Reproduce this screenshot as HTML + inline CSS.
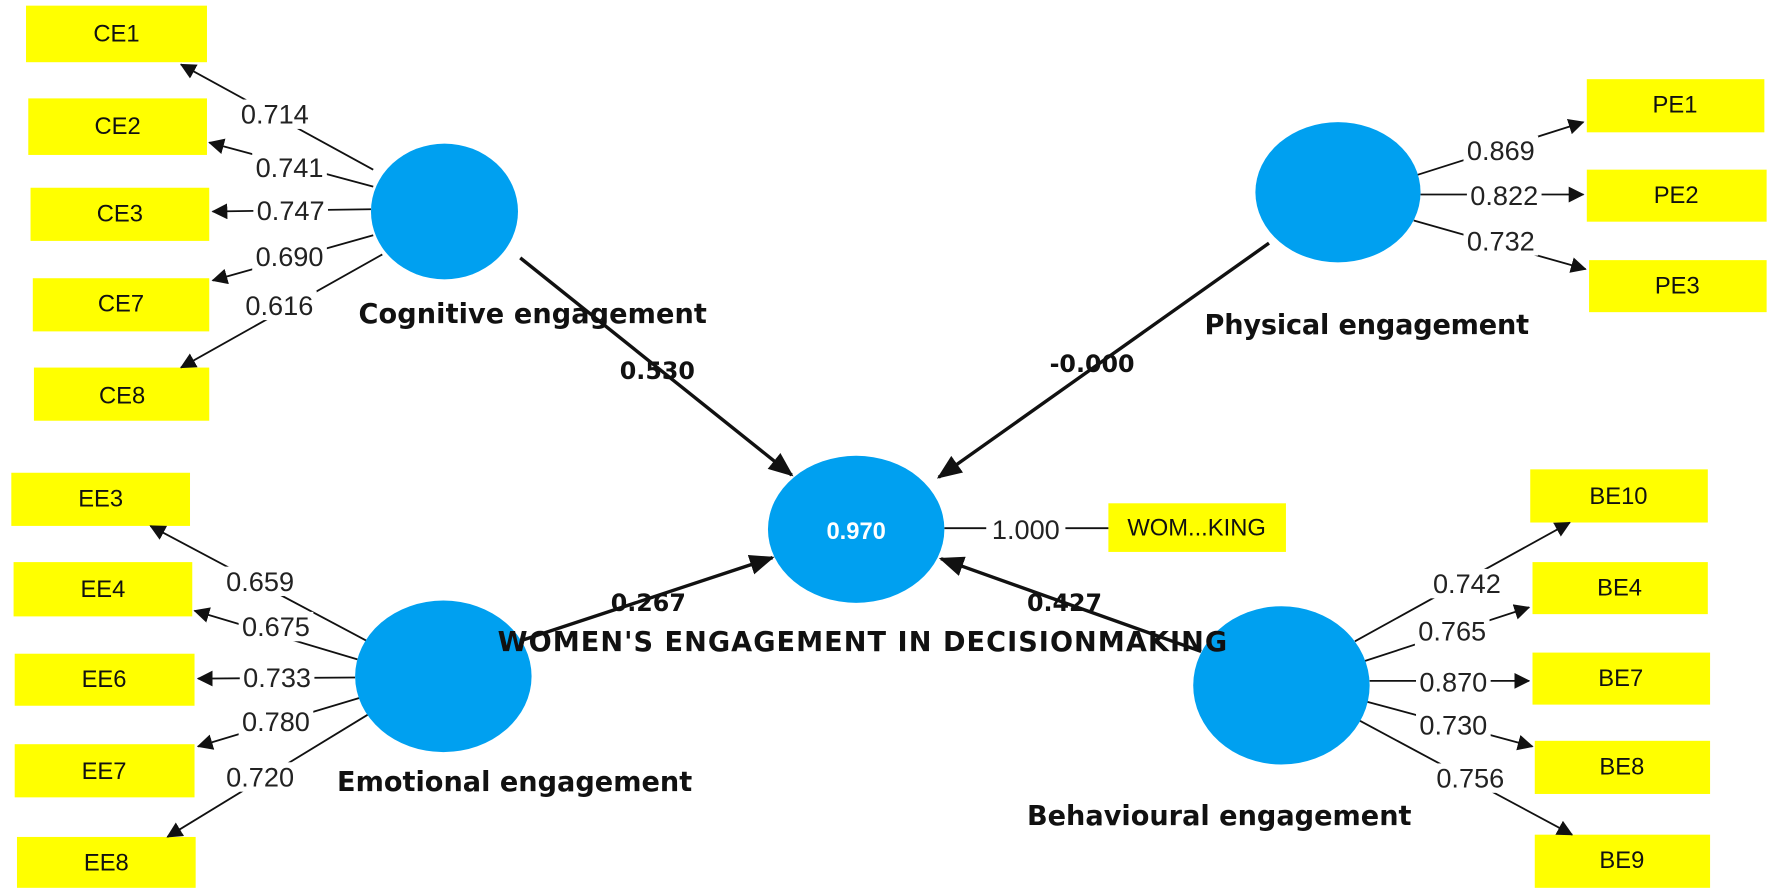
<!DOCTYPE html>
<html><head><meta charset="utf-8"><style>
html,body{margin:0;padding:0;background:#fff}
svg{display:block}
.b{fill:#ffff00}
.bt{font-family:"Liberation Sans",sans-serif;font-size:21px;fill:#111;text-anchor:middle;dominant-baseline:central}
.l{font-family:"Liberation Sans",sans-serif;font-size:24px;fill:#222;text-anchor:middle;dominant-baseline:central}
.p{font-family:"DejaVu Sans",sans-serif;font-weight:bold;font-size:21px;fill:#111;dominant-baseline:central}
.n{font-family:"DejaVu Sans",sans-serif;font-weight:bold;font-size:24px;fill:#111;dominant-baseline:central}
.c{fill:#00a0f0}
line{stroke:#111;stroke-width:1.6}
.s{stroke-width:3}
</style></head><body>
<svg width="1770" height="895" viewBox="0 0 1770 895" xmlns="http://www.w3.org/2000/svg">
<defs>
<marker id="a" markerWidth="14" markerHeight="14" refX="13" refY="7" orient="auto" markerUnits="userSpaceOnUse" viewBox="0 0 14 14"><path d="M0,0 L14,7 L0,14z" fill="#111"/></marker>
<marker id="A" markerWidth="22" markerHeight="22" refX="20" refY="11" orient="auto" markerUnits="userSpaceOnUse" viewBox="0 0 22 22"><path d="M0,2 L22,11 L0,20z" fill="#111"/></marker>
</defs>
<g transform="scale(1.131)">
<!-- boxes -->
<rect class="b" x="23" y="5" width="160" height="50"/><text class="bt" x="103" y="30">CE1</text>
<rect class="b" x="25" y="87" width="158" height="50"/><text class="bt" x="104" y="112">CE2</text>
<rect class="b" x="27" y="166" width="158" height="47"/><text class="bt" x="106" y="189">CE3</text>
<rect class="b" x="29" y="246" width="156" height="47"/><text class="bt" x="107" y="269">CE7</text>
<rect class="b" x="30" y="325" width="155" height="47"/><text class="bt" x="108" y="350">CE8</text>

<rect class="b" x="1403" y="70" width="157" height="47"/><text class="bt" x="1481" y="93">PE1</text>
<rect class="b" x="1403" y="150" width="159" height="46"/><text class="bt" x="1482" y="173">PE2</text>
<rect class="b" x="1405" y="230" width="157" height="46"/><text class="bt" x="1483" y="253">PE3</text>

<rect class="b" x="10" y="418" width="158" height="47"/><text class="bt" x="89" y="441">EE3</text>
<rect class="b" x="12" y="497" width="158" height="48"/><text class="bt" x="91" y="521">EE4</text>
<rect class="b" x="13" y="578" width="159" height="46"/><text class="bt" x="92" y="601">EE6</text>
<rect class="b" x="13" y="658" width="159" height="47"/><text class="bt" x="92" y="682">EE7</text>
<rect class="b" x="15" y="740" width="158" height="45"/><text class="bt" x="94" y="763">EE8</text>

<rect class="b" x="1353" y="415" width="157" height="47"/><text class="bt" x="1431" y="439">BE10</text>
<rect class="b" x="1355" y="497" width="155" height="46"/><text class="bt" x="1432" y="520">BE4</text>
<rect class="b" x="1355" y="577" width="157" height="46"/><text class="bt" x="1433" y="600">BE7</text>
<rect class="b" x="1357" y="655" width="155" height="47"/><text class="bt" x="1434" y="678">BE8</text>
<rect class="b" x="1357" y="738" width="155" height="47"/><text class="bt" x="1434" y="761">BE9</text>

<rect class="b" x="980" y="445" width="157" height="43"/><text class="bt" x="1058" y="467">WOM...KING</text>

<!-- loading lines -->
<g>
<line x1="330" y1="150" x2="160" y2="57" marker-end="url(#a)"/>
<line x1="330" y1="165" x2="185" y2="126" marker-end="url(#a)"/>
<line x1="328" y1="185" x2="188" y2="187" marker-end="url(#a)"/>
<line x1="330" y1="208" x2="188" y2="248" marker-end="url(#a)"/>
<line x1="338" y1="225" x2="160" y2="325" marker-end="url(#a)"/>

<line x1="1252" y1="155" x2="1400" y2="108" marker-end="url(#a)"/>
<line x1="1256" y1="172" x2="1400" y2="172" marker-end="url(#a)"/>
<line x1="1250" y1="195" x2="1402" y2="238" marker-end="url(#a)"/>

<line x1="325" y1="567" x2="133" y2="465" marker-end="url(#a)"/>
<line x1="316" y1="583" x2="172" y2="540" marker-end="url(#a)"/>
<line x1="314" y1="599" x2="175" y2="600" marker-end="url(#a)"/>
<line x1="318" y1="617" x2="175" y2="660" marker-end="url(#a)"/>
<line x1="325" y1="632" x2="148" y2="740" marker-end="url(#a)"/>

<line x1="1198" y1="567" x2="1388" y2="462" marker-end="url(#a)"/>
<line x1="1205" y1="585" x2="1352" y2="537" marker-end="url(#a)"/>
<line x1="1211" y1="602" x2="1352" y2="602" marker-end="url(#a)"/>
<line x1="1207" y1="620" x2="1355" y2="660" marker-end="url(#a)"/>
<line x1="1200" y1="636" x2="1390" y2="738" marker-end="url(#a)"/>

<line x1="835" y1="467" x2="980" y2="467"/>
</g>
<!-- structural -->
<line class="s" x1="460" y1="228" x2="700" y2="420" marker-end="url(#A)"/>
<line class="s" x1="1122" y1="215" x2="830" y2="422" marker-end="url(#A)"/>
<line class="s" x1="462" y1="566" x2="683" y2="493" marker-end="url(#A)"/>
<line class="s" x1="1062" y1="576" x2="832" y2="494" marker-end="url(#A)"/>

<!-- circles -->
<ellipse class="c" cx="393" cy="187" rx="65" ry="60"/>
<ellipse class="c" cx="1183" cy="170" rx="73" ry="62"/>
<ellipse class="c" cx="757" cy="468" rx="78" ry="65"/>
<ellipse class="c" cx="392" cy="598" rx="78" ry="67"/>
<ellipse class="c" cx="1133" cy="606" rx="78" ry="70"/>
<text x="757" y="470" style="font-family:'Liberation Sans',sans-serif;font-weight:bold;font-size:21px;fill:#fff;text-anchor:middle;dominant-baseline:central">0.970</text>

<!-- loading labels -->
<g>
<rect x="210" y="88" width="66" height="26" fill="#fff"/><text class="l" x="243" y="101">0.714</text>
<rect x="223" y="135" width="66" height="26" fill="#fff"/><text class="l" x="256" y="148">0.741</text>
<rect x="224" y="173" width="66" height="26" fill="#fff"/><text class="l" x="257" y="186">0.747</text>
<rect x="223" y="214" width="66" height="26" fill="#fff"/><text class="l" x="256" y="227">0.690</text>
<rect x="214" y="257" width="66" height="26" fill="#fff"/><text class="l" x="247" y="270">0.616</text>

<rect x="1294" y="120" width="66" height="26" fill="#fff"/><text class="l" x="1327" y="133">0.869</text>
<rect x="1297" y="160" width="66" height="26" fill="#fff"/><text class="l" x="1330" y="173">0.822</text>
<rect x="1294" y="200" width="66" height="26" fill="#fff"/><text class="l" x="1327" y="213">0.732</text>

<rect x="197" y="501" width="66" height="26" fill="#fff"/><text class="l" x="230" y="514">0.659</text>
<rect x="211" y="541" width="66" height="26" fill="#fff"/><text class="l" x="244" y="554">0.675</text>
<rect x="212" y="586" width="66" height="26" fill="#fff"/><text class="l" x="245" y="599">0.733</text>
<rect x="211" y="625" width="66" height="26" fill="#fff"/><text class="l" x="244" y="638">0.780</text>
<rect x="197" y="674" width="66" height="26" fill="#fff"/><text class="l" x="230" y="687">0.720</text>

<rect x="1264" y="503" width="66" height="26" fill="#fff"/><text class="l" x="1297" y="516">0.742</text>
<rect x="1251" y="545" width="66" height="26" fill="#fff"/><text class="l" x="1284" y="558">0.765</text>
<rect x="1252" y="590" width="66" height="26" fill="#fff"/><text class="l" x="1285" y="603">0.870</text>
<rect x="1252" y="628" width="66" height="26" fill="#fff"/><text class="l" x="1285" y="641">0.730</text>
<rect x="1267" y="675" width="66" height="26" fill="#fff"/><text class="l" x="1300" y="688">0.756</text>

<rect x="872" y="455" width="70" height="26" fill="#fff"/><text class="l" x="907" y="468">1.000</text>
</g>

<!-- path labels -->
<text class="p" x="548" y="328">0.530</text>
<text class="p" x="928" y="322">-0.000</text>
<text class="p" x="540" y="533">0.267</text>
<text class="p" x="908" y="533">0.427</text>

<!-- construct names -->
<text class="n" x="317" y="278" textLength="308">Cognitive engagement</text>
<text class="n" x="1065" y="288" textLength="287">Physical engagement</text>
<text class="n" x="298" y="692" textLength="314">Emotional engagement</text>
<text class="n" x="908" y="722" textLength="340">Behavioural engagement</text>
<text class="n" x="440" y="568" textLength="645">WOMEN'S ENGAGEMENT IN DECISIONMAKING</text>
</g>
</svg>
</body></html>
